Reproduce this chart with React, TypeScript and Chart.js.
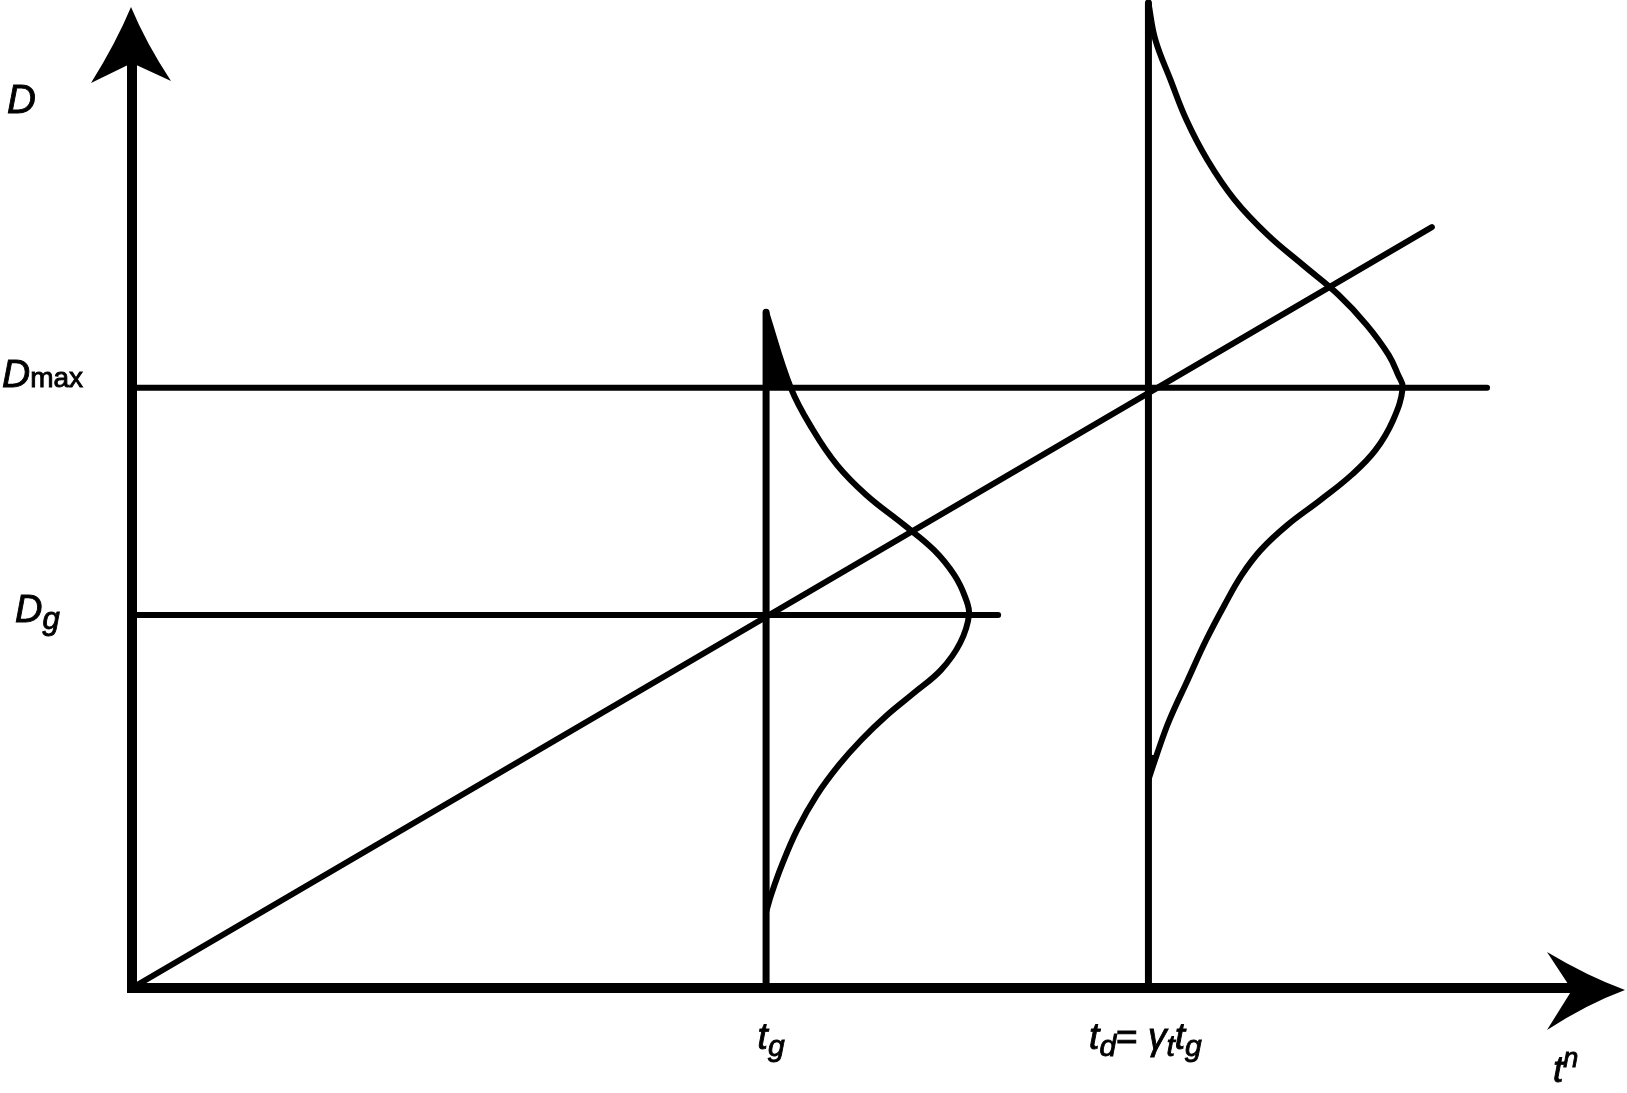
import React, { useEffect, useRef } from "react";
import { Chart, registerables } from "chart.js";

Chart.register(...registerables);

// ---- Key values (t^n axis in units of t_g, D axis in units of D_g) ----
const T_G = 1.0;
const T_D = 1.603;
const D_G = 1.0;
const D_MAX = 1.609;

// axis extents (shaft ends, arrowheads drawn beyond)
const AXIS_T_MAX = 2.271;
const AXIS_D_MAX = 2.48;

// straight elements
const DIAG_T = [0, 2.05];
const DIAG_D = [0, 2.04];
const DMAX_LINE_END = 2.137;
const DG_LINE_END = 1.366;
const TG_LINE_TOP = 1.812;
const TD_LINE_TOP = 2.641;

// distribution curve at t_g : D level and horizontal spread from the vertical line
const CURVE1_D = [1.812, 1.609, 1.496, 1.402, 1.322, 1.241, 1.174, 1.107, 1.048, 1.0, 0.925, 0.853, 0.791, 0.732, 0.665, 0.598, 0.517, 0.424, 0.33, 0.255, 0.204];
const CURVE1_W = [0, 0.039, 0.074, 0.112, 0.158, 0.218, 0.265, 0.297, 0.314, 0.32, 0.306, 0.276, 0.233, 0.191, 0.15, 0.115, 0.08, 0.049, 0.025, 0.009, 0];

// distribution curve at t_d
const CURVE2_D = [2.641, 2.542, 2.434, 2.327, 2.22, 2.113, 2.019, 1.938, 1.858, 1.778, 1.697, 1.643, 1.609, 1.523, 1.442, 1.375, 1.308, 1.241, 1.174, 1.107, 1.027, 0.933, 0.826, 0.718, 0.625, 0.558];
const CURVE2_W = [0, 0.011, 0.035, 0.06, 0.093, 0.136, 0.188, 0.244, 0.3, 0.344, 0.379, 0.394, 0.401, 0.386, 0.358, 0.32, 0.271, 0.219, 0.177, 0.147, 0.12, 0.091, 0.062, 0.033, 0.013, 0];

// label texts
const Y_TITLE = "D";
const X_TITLE = ["t", "n"];
const LABEL_DMAX = ["D", "max"];
const LABEL_DG = ["D", "g"];
const LABEL_TG = ["t", "g"];
const LABEL_TD = ["t", "d", "=", " γ", "t", "t", "g"];

const FAM = '"Liberation Sans", Arial, Helvetica, sans-serif';
const it = (s: number) => `italic ${s}px ${FAM}`;
const up = (s: number) => `${s}px ${FAM}`;

type Part = { t: string; font: string; dy?: number };

function drawRich(ctx: CanvasRenderingContext2D, x: number, y: number, parts: Part[], align: "left" | "center" = "left") {
  ctx.textAlign = "left";
  ctx.textBaseline = "alphabetic";
  let total = 0;
  const widths = parts.map((p) => {
    ctx.font = p.font;
    const w = ctx.measureText(p.t).width;
    total += w;
    return w;
  });
  let cx = align === "center" ? x - total / 2 : x;
  ctx.lineWidth = 0.9;
  ctx.strokeStyle = "#000";
  parts.forEach((p, i) => {
    ctx.font = p.font;
    ctx.fillText(p.t, cx, y + (p.dy || 0));
    ctx.strokeText(p.t, cx, y + (p.dy || 0));
    cx += widths[i];
  });
}

const overlayPlugin = {
  id: "overlay",
  beforeDatasetsDraw(chart: any) {
    const { ctx, scales } = chart;
    const xs = scales.x;
    const ys = scales.y;
    ctx.save();
    ctx.fillStyle = "#000";
    // solid wedge where the t_g curve leaves its vertical line (top tail)
    ctx.beginPath();
    ctx.moveTo(xs.getPixelForValue(T_G), ys.getPixelForValue(CURVE1_D[0]));
    ctx.lineTo(xs.getPixelForValue(T_G + CURVE1_W[1]), ys.getPixelForValue(CURVE1_D[1]));
    ctx.lineTo(xs.getPixelForValue(T_G), ys.getPixelForValue(CURVE1_D[1]));
    ctx.closePath();
    ctx.fill();
    // small wedge at the lower tail of the t_d curve
    const n = CURVE2_D.length;
    ctx.beginPath();
    ctx.moveTo(xs.getPixelForValue(T_D), ys.getPixelForValue(CURVE2_D[n - 1]));
    ctx.lineTo(xs.getPixelForValue(T_D + CURVE2_W[n - 2]), ys.getPixelForValue(CURVE2_D[n - 2]));
    ctx.lineTo(xs.getPixelForValue(T_D), ys.getPixelForValue(CURVE2_D[n - 2]));
    ctx.closePath();
    ctx.fill();
    ctx.restore();
  },
  afterDraw(chart: any) {
    const { ctx, chartArea, scales } = chart;
    const xs = scales.x;
    const ys = scales.y;
    const ox = xs.getPixelForValue(0);
    const oy = ys.getPixelForValue(0);
    const xEnd = xs.getPixelForValue(AXIS_T_MAX);
    const yEnd = ys.getPixelForValue(AXIS_D_MAX);
    ctx.save();
    ctx.fillStyle = "#000";
    // y arrowhead
    ctx.beginPath();
    ctx.moveTo(ox - 1, yEnd - 56);
    ctx.quadraticCurveTo(ox + 14, yEnd - 20, ox + 39, yEnd + 18);
    ctx.lineTo(ox, yEnd);
    ctx.lineTo(ox - 41, yEnd + 20);
    ctx.quadraticCurveTo(ox - 16, yEnd - 20, ox - 1, yEnd - 56);
    ctx.closePath();
    ctx.fill();
    // x arrowhead
    ctx.beginPath();
    ctx.moveTo(xEnd + 53, oy + 2);
    ctx.quadraticCurveTo(xEnd + 15, oy - 12, xEnd - 25, oy - 36);
    ctx.lineTo(xEnd, oy + 2);
    ctx.lineTo(xEnd - 25, oy + 42);
    ctx.quadraticCurveTo(xEnd + 15, oy + 16, xEnd + 53, oy + 2);
    ctx.closePath();
    ctx.fill();

    // labels
    drawRich(ctx, ox - 125, chartArea.top + 50, [{ t: Y_TITLE, font: it(40) }]);
    drawRich(ctx, ox - 130, ys.getPixelForValue(D_MAX) - 1, [
      { t: LABEL_DMAX[0], font: it(39) },
      { t: LABEL_DMAX[1], font: up(28) },
    ]);
    drawRich(ctx, ox - 117, ys.getPixelForValue(D_G) + 7, [
      { t: LABEL_DG[0], font: it(38) },
      { t: LABEL_DG[1], font: it(31), dy: 7 },
    ]);
    drawRich(ctx, xs.getPixelForValue(T_G) + 5, oy + 61, [
      { t: LABEL_TG[0], font: it(37) },
      { t: LABEL_TG[1], font: it(30), dy: 7 },
    ], "center");
    const big = it(37);
    const sub = it(30);
    drawRich(ctx, xs.getPixelForValue(T_D) - 3, oy + 61, [
      { t: LABEL_TD[0], font: big },
      { t: LABEL_TD[1], font: sub, dy: 7 },
      { t: LABEL_TD[2], font: up(37) },
      { t: LABEL_TD[3], font: big },
      { t: LABEL_TD[4], font: sub, dy: 7 },
      { t: LABEL_TD[5], font: big },
      { t: LABEL_TD[6], font: sub, dy: 7 },
    ], "center");
    drawRich(ctx, xEnd - 19, oy + 94, [
      { t: X_TITLE[0], font: it(37) },
      { t: X_TITLE[1], font: it(27), dy: -15 },
    ]);
    ctx.restore();
  },
};

export default function App() {
  const ref = useRef<HTMLCanvasElement | null>(null);
  useEffect(() => {
    document.body.style.margin = "0";
    const canvas = ref.current;
    if (!canvas) return;
    const line = (data: { x: number; y: number }[], width: number, tension = 0) => ({
      data,
      showLine: true,
      borderColor: "#000",
      backgroundColor: "#000",
      borderWidth: width,
      pointRadius: 0,
      pointHoverRadius: 0,
      tension,
      capBezierPoints: false,
      fill: false,
      clip: false as const,
      borderCapStyle: "round" as const,
      borderJoinStyle: "round" as const,
    });
    const curve1 = CURVE1_D.map((d, i) => ({ x: T_G + CURVE1_W[i], y: d }));
    const curve2 = CURVE2_D.map((d, i) => ({ x: T_D + CURVE2_W[i], y: d }));
    const chart = new Chart(canvas, {
      type: "scatter",
      data: {
        datasets: [
          line(DIAG_T.map((t, i) => ({ x: t, y: DIAG_D[i] })), 6),
          line([{ x: 0, y: D_MAX }, { x: DMAX_LINE_END, y: D_MAX }], 6),
          line([{ x: 0, y: D_G }, { x: DG_LINE_END, y: D_G }], 6),
          line([{ x: T_G, y: 0 }, { x: T_G, y: TG_LINE_TOP }], 7),
          line([{ x: T_D, y: 0 }, { x: T_D, y: TD_LINE_TOP }], 7),
          line(curve1, 6, 0.4),
          line(curve2, 6, 0.4),
        ],
      },
      options: {
        responsive: false,
        animation: false,
        devicePixelRatio: 1,
        events: [],
        layout: { padding: { left: 132, right: 55, top: 63, bottom: 105 } },
        plugins: { legend: { display: false }, tooltip: { enabled: false }, title: { display: false } },
        scales: {
          x: {
            type: "linear",
            min: 0,
            max: AXIS_T_MAX,
            grid: { display: false, drawTicks: false, tickLength: 0 },
            ticks: { display: false },
            border: { display: true, width: 10, color: "#000" },
            title: { display: false },
          },
          y: {
            type: "linear",
            min: 0,
            max: AXIS_D_MAX,
            grid: { display: false, drawTicks: false, tickLength: 0 },
            ticks: { display: false },
            border: { display: true, width: 10, color: "#000" },
            title: { display: false },
          },
        },
      },
      plugins: [overlayPlugin],
    });
    return () => chart.destroy();
  }, []);
  return (
    <div style={{ width: 1627, height: 1093, background: "#fff" }}>
      <canvas ref={ref} width={1627} height={1093} style={{ display: "block" }} />
    </div>
  );
}
